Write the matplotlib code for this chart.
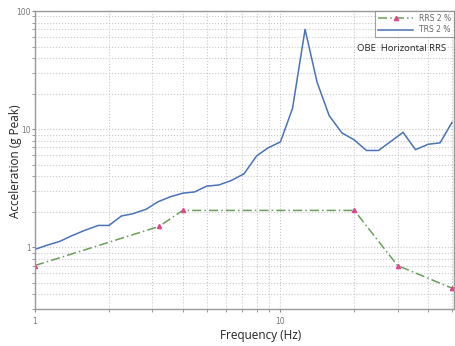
import matplotlib
matplotlib.use('Agg')
import matplotlib.pyplot as plt
from matplotlib.ticker import LogLocator, FixedLocator, FixedFormatter, NullFormatter

# required response spectrum (RRS 2 %)
rrs_freq = [1.0, 3.2, 4.0, 20.0, 30.0, 50.0]
rrs_acc = [0.7, 1.5, 2.05, 2.05, 0.7, 0.45]

# test response spectrum (TRS 2 %)
trs_freq = [1.0, 1.12, 1.26, 1.41, 1.58, 1.81, 2.0, 2.25, 2.5, 2.84, 3.16,
            3.55, 4.0, 4.47, 5.0, 5.62, 6.3, 7.1, 8.0, 8.9, 10.0, 11.2,
            12.6, 14.1, 15.8, 17.8, 20.0, 22.4, 25.1, 31.6, 35.5, 40.0,
            44.7, 50.0]
trs_acc = [0.96, 1.04, 1.12, 1.25, 1.38, 1.53, 1.53, 1.84, 1.92, 2.1, 2.42,
           2.67, 2.87, 2.94, 3.29, 3.37, 3.67, 4.18, 5.94, 6.94, 7.8, 15.0,
           70.0, 25.0, 13.0, 9.3, 8.1, 6.6, 6.6, 9.4, 6.7, 7.45,
           7.65, 11.4]

title_text = 'OBE  Horizontal RRS'

fig = plt.figure(figsize=(4.55, 3.46), dpi=100)
ax = fig.add_axes([0.077, 0.107, 0.921, 0.861])

ax.plot(rrs_freq, rrs_acc, color='#6a9f5a', lw=1.1, ls=(0, (6, 2, 1, 2)),
        marker='^', ms=3, mfc='#e0468a', mec='#e0468a', label='RRS 2 %')
ax.plot(trs_freq, trs_acc, color='#4a72b8', lw=1.1, label='TRS 2 %')

ax.set_xscale('log')
ax.set_yscale('log')
ax.set_xlim(1, 51)
ax.set_ylim(0.3, 100)

ax.xaxis.set_major_locator(FixedLocator([1, 10]))
ax.xaxis.set_major_formatter(FixedFormatter(['1', '10']))
ax.xaxis.set_minor_locator(LogLocator(base=10, subs=range(2, 10)))
ax.xaxis.set_minor_formatter(NullFormatter())
ax.yaxis.set_major_locator(FixedLocator([1, 10, 100]))
ax.yaxis.set_major_formatter(FixedFormatter(['1', '10', '100']))
ax.yaxis.set_minor_locator(LogLocator(base=10, subs=range(2, 10)))
ax.yaxis.set_minor_formatter(NullFormatter())

ax.grid(True, which='both', color='#c8c8c8', ls=':', lw=0.8)
ax.tick_params(which='both', length=2, color='#888888', labelsize=5.5,
               labelcolor='#777777')
ax.tick_params(axis='x', pad=4)
ax.tick_params(axis='y', pad=1)

for s in ax.spines.values():
    s.set_color('#9a9a9a')
    s.set_linewidth(1.0)

fig.text(261 / 455, 1 - 335 / 346, 'Frequency (Hz)', ha='center', va='center',
         fontsize=8.5, family='Open Sans', color='#222222')
fig.text(16 / 455, 1 - 161 / 346, 'Acceleration (g Peak)', ha='center', va='center',
         rotation=90, fontsize=8.5, family='Open Sans', color='#222222')

leg = ax.legend(loc='upper right', fontsize=5.5, frameon=True, fancybox=False,
                borderaxespad=0, handlelength=4.5, markerfirst=True,
                labelspacing=0.3, borderpad=0.4)
leg.get_frame().set_edgecolor('#888888')
leg.get_frame().set_linewidth(0.8)
for t in leg.get_texts():
    t.set_color('#666666')

ax.text(0.98, 0.875, title_text, transform=ax.transAxes, ha='right', va='center',
        fontsize=6.8, family='Open Sans', color='#222222')

fig.savefig('out.png', dpi=100)
